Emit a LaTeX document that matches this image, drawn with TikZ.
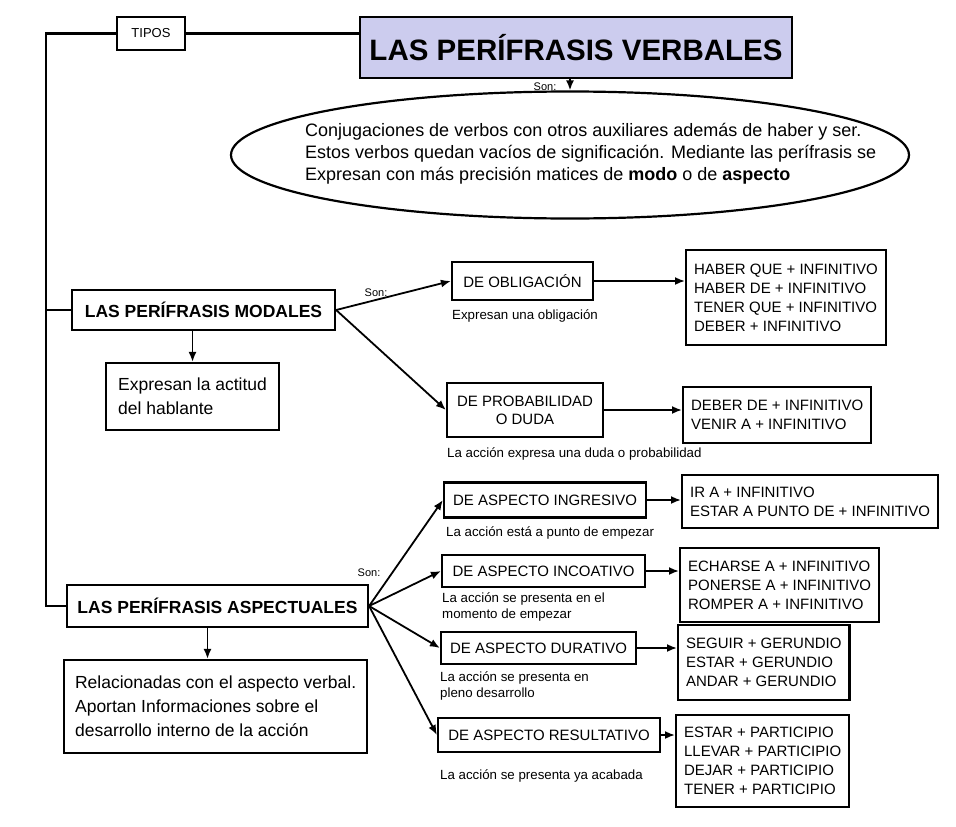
\documentclass[tikz,border=0pt]{standalone}
\usepackage{fontspec}
\setmainfont{Liberation Sans}
\usepackage{tikz}
\usetikzlibrary{arrows.meta,shapes.geometric}
\definecolor{titlefill}{RGB}{204,204,238}
\newcommand{\fs}[2]{\fontsize{#1}{#2}\selectfont}

\begin{document}
\begin{tikzpicture}[x=1pt,y=-1pt,>={Latex[length=10pt,width=8pt]},
  frame/.style={draw,line width=2.2pt,inner sep=0pt,align=center},
  titlebox/.style={frame,line width=2.8pt,fill=titlefill,font=\fs{29.5}{34}\bfseries},
  tipobox/.style={frame,font=\fs{17.5}{21}\bfseries},
  kindbox/.style={frame,font=\fs{15}{18}},
  listbox/.style={frame,anchor=west,align=left,inner xsep=8pt,font=\fs{15}{19}},
  descbox/.style={frame,anchor=west,align=left,inner xsep=11pt,font=\fs{17.5}{24}},
  note/.style={anchor=west,align=left,inner sep=0pt,font=\fs{13.3}{16.5}},
  son/.style={inner sep=0pt,font=\fs{11}{13}},
  link/.style={->,line width=1.8pt}]
  \useasboundingbox (0,0) rectangle (956,827);

  \node[frame,font=\fs{13}{15},minimum width=68pt,minimum height=33pt] (tipos) at (151,33.5) {TIPOS};
  \node[titlebox,minimum width=432pt,minimum height=61pt] (title) at (576,47.5) {LAS PERÍFRASIS VERBALES};
  \node[draw,ellipse,line width=2.2pt,minimum width=678pt,minimum height=127pt,inner sep=0pt] (def) at (570,155) {};
  \node[anchor=west,align=left,inner sep=0pt,font=\fs{18}{22}] (deftxt) at (305,154)
    {Conjugaciones de verbos con otros auxiliares además de haber y ser.\\
     Estos verbos quedan vacíos de significación. Mediante las perífrasis se\\
     Expresan con más precisión matices de \textbf{modo} o de \textbf{aspecto}};
  \node[son] (son0) at (545,87) {Son:};

  \node[tipobox,minimum width=263pt,minimum height=40pt] (modales) at (203.5,310) {LAS PERÍFRASIS MODALES};
  \node[descbox,inner xsep=12pt,minimum height=67pt] (actitud) at (105,396.5) {Expresan la actitud\\del hablante};
  \node[son] (son1) at (376,293) {Son:};
  \node[kindbox,minimum width=141pt,minimum height=38pt] (oblig) at (522.5,281) {DE OBLIGACIÓN};
  \node[note] (noteoblig) at (452,316) {Expresan una obligación};
  \node[listbox,minimum height=95pt] (listoblig) at (685,297.5)
    {HABER QUE + INFINITIVO\\HABER DE + INFINITIVO\\TENER QUE + INFINITIVO\\DEBER + INFINITIVO};
  \node[kindbox,minimum width=156pt,minimum height=54pt] (prob) at (525,410) {DE PROBABILIDAD\\O DUDA};
  \node[note] (noteprob) at (447,454) {La acción expresa una duda o probabilidad};
  \node[listbox,minimum height=56pt] (listprob) at (682,415)
    {DEBER DE + INFINITIVO\\VENIR A + INFINITIVO};

  \node[tipobox,minimum width=301pt,minimum height=42pt] (aspect) at (217.5,606) {LAS PERÍFRASIS ASPECTUALES};
  \node[descbox,minimum height=93pt] (relac) at (63,706.5)
    {Relacionadas con el aspecto verbal.\\Aportan Informaciones sobre el\\desarrollo interno de la acción};
  \node[son] (son2) at (369,573) {Son:};
  \node[kindbox,minimum width=202pt,minimum height=35pt] (ingr) at (545,500) {DE ASPECTO INGRESIVO};
  \node[note] (noteingr) at (446,533) {La acción está a punto de empezar};
  \node[listbox,minimum height=53pt] (listingr) at (681,501.5)
    {IR A + INFINITIVO\\ESTAR A PUNTO DE + INFINITIVO};
  \node[kindbox,minimum width=203pt,minimum height=32pt] (incoa) at (543.5,571) {DE ASPECTO INCOATIVO};
  \node[note] (noteincoa) at (442,607) {La acción se presenta en el\\momento de empezar};
  \node[listbox,minimum height=74pt] (listincoa) at (679,585)
    {ECHARSE A + INFINITIVO\\PONERSE A + INFINITIVO\\ROMPER A + INFINITIVO};
  \node[kindbox,minimum width=195pt,minimum height=32pt] (durat) at (538.5,648) {DE ASPECTO DURATIVO};
  \node[note] (notedurat) at (440,686) {La acción se presenta en\\pleno desarrollo};
  \node[listbox,minimum height=75pt] (listdurat) at (677,662.5)
    {SEGUIR + GERUNDIO\\ESTAR + GERUNDIO\\ANDAR + GERUNDIO};
  \node[kindbox,minimum width=222pt,minimum height=34pt] (result) at (549,735) {DE ASPECTO RESULTATIVO};
  \node[note] (noteresult) at (440,776) {La acción se presenta ya acabada};
  \node[listbox,minimum height=92pt] (listresult) at (675,761)
    {ESTAR + PARTICIPIO\\LLEVAR + PARTICIPIO\\DEJAR + PARTICIPIO\\TENER + PARTICIPIO};

  \coordinate (spine) at (46,33.5);
  \draw[line width=2.2pt] (tipos.west) -- (spine) |- (aspect.west);
  \draw[line width=2.2pt] (spine |- modales.west) -- (modales.west);
  \draw[line width=2.2pt] (tipos.east) -- (tipos.east -| title.west);
  \draw[link] (title.south -| def.north) -- (def.north);

  \draw[link] (modales.south -| actitud.north) -- (actitud.north);
  \draw[link] (modales.east) -- (oblig.west);
  \draw[link] (modales.east) -- (prob.west);
  \draw[link] (oblig.east) -- (oblig.east -| listoblig.west);
  \draw[link] (prob.east) -- (prob.east -| listprob.west);

  \draw[link] ([xshift=-10pt]aspect.south) -- ([xshift=-10pt]aspect.south |- relac.north);
  \foreach \k in {ingr,incoa,durat,result}
    \draw[link] (aspect.east) -- (\k.west);
  \draw[link] (ingr.east) -- (ingr.east -| listingr.west);
  \draw[link] (incoa.east) -- (incoa.east -| listincoa.west);
  \draw[link] (durat.east) -- (durat.east -| listdurat.west);
  \draw[link] (result.east) -- (result.east -| listresult.west);
\end{tikzpicture}
\end{document}
